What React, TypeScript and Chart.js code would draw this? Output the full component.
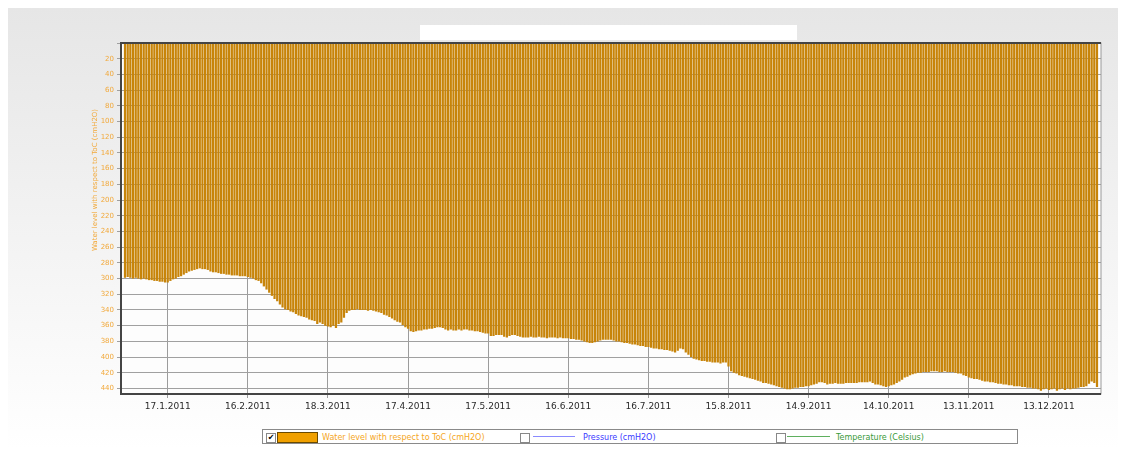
import React, { useEffect, useRef } from "react";
import { Chart, registerables } from "chart.js";

Chart.register(...registerables);

// Water level with respect to ToC (cmH2O), one value per day of 2011
const JAN = [299,298,299,300,299,300,301,300,301,302,302,303,303,304,304,305,305,303,301,300,298,297,295,293,291,290,289,288,287,288,288];
const FEB = [289,291,292,292,293,294,294,295,295,296,296,296,297,297,297,298,299,300,302,303,306,310,314,318,322,326,329,333];
const MAR = [337,339,340,342,343,345,347,348,349,350,352,353,354,358,356,358,360,361,362,360,363,358,356,350,344,341,340,340,339,340,340];
const APR = [340,341,340,341,342,343,344,346,347,349,351,353,355,356,359,362,364,367,368,367,366,366,365,365,364,364,363,362,362,363];
const MAY = [365,366,365,366,366,365,366,365,365,366,366,367,367,368,369,370,370,373,373,372,372,372,374,375,373,372,372,373,374,375,375];
const JUN = [375,374,375,375,374,375,375,376,375,375,375,376,375,376,376,376,377,377,378,378,379,380,381,382,382,381,380,379,378,378];
const JUL = [378,378,379,380,380,381,382,382,383,384,384,385,386,386,387,387,388,389,389,390,390,391,391,392,393,394,392,389,390,394,397];
const AUG = [400,402,403,404,405,405,406,406,407,407,407,408,407,407,412,418,420,421,423,424,425,426,427,428,429,430,431,433,433,434,435];
const SEP = [436,437,438,439,440,441,441,440,439,439,438,438,437,437,436,435,434,432,432,433,435,434,434,433,434,434,434,433,433,433];
const OCT = [433,433,432,432,432,432,431,433,435,435,436,437,438,437,436,435,433,431,429,426,425,423,422,421,420,420,419,419,419,418,418];
const NOV = [418,419,419,418,419,419,419,420,421,421,423,424,426,427,428,428,429,430,431,431,432,432,433,434,434,435,435,436,436,437];
const DEC = [437,437,438,438,439,439,440,440,441,443,441,440,442,441,440,443,441,440,442,440,441,440,440,439,438,438,437,434,431,433,438];

const MONTHS = [JAN, FEB, MAR, APR, MAY, JUN, JUL, AUG, SEP, OCT, NOV, DEC];
const YEAR = 2011;

const X_TICK_LABELS = [
  "17.1.2011", "16.2.2011", "18.3.2011", "17.4.2011", "17.5.2011", "16.6.2011",
  "16.7.2011", "15.8.2011", "14.9.2011", "14.10.2011", "13.11.2011", "13.12.2011",
];

const Y_MIN = 0;
const Y_MAX = 447;
const Y_STEP = 20;

const SERIES_LABEL = "Water level with respect to ToC (cmH2O)";
const PRESSURE_LABEL = "Pressure (cmH2O)";
const TEMPERATURE_LABEL = "Temperature (Celsius)";

// build category labels (one per day, padded one slot each side) and values
const LABELS: string[] = ["31.12.2010"];
const VALUES: (number | null)[] = [null];
MONTHS.forEach((arr, m) => {
  arr.forEach((v, d) => {
    LABELS.push(`${d + 1}.${m + 1}.${YEAR}`);
    VALUES.push(v);
  });
});
LABELS.push("1.1.2012");
VALUES.push(null);

const BAR_COLOR = "#C78409";
const AXIS_TEXT = "#F2A93B";

const framePlugin = {
  id: "frame",
  beforeDraw(chart: any) {
    const { ctx, chartArea } = chart;
    ctx.save();
    ctx.fillStyle = "#fdfdfd";
    ctx.fillRect(chartArea.left, chartArea.top, chartArea.right - chartArea.left, chartArea.bottom - chartArea.top);
    ctx.restore();
  },
  afterDatasetsDraw(chart: any) {
    const { ctx, chartArea } = chart;
    ctx.save();
    ctx.strokeStyle = "#9a9a9a";
    ctx.lineWidth = 1;
    ctx.strokeRect(chartArea.left, chartArea.top, chartArea.right - chartArea.left, chartArea.bottom - chartArea.top);
    ctx.strokeStyle = "#444";
    ctx.lineWidth = 2;
    ctx.beginPath();
    ctx.moveTo(chartArea.right, chartArea.top);
    ctx.lineTo(chartArea.left, chartArea.top);
    ctx.lineTo(chartArea.left, chartArea.bottom);
    ctx.lineTo(chartArea.right, chartArea.bottom);
    ctx.stroke();
    ctx.restore();
  },
  afterDraw(chart: any) {
    const { ctx } = chart;
    ctx.save();
    ctx.translate(87, 172);
    ctx.rotate(-Math.PI / 2);
    ctx.fillStyle = AXIS_TEXT;
    ctx.font = "7px 'DejaVu Sans'";
    ctx.textAlign = "center";
    ctx.textBaseline = "middle";
    ctx.fillText(SERIES_LABEL, 0, 0);
    ctx.restore();
  },
};

export default function App() {
  const ref = useRef<HTMLCanvasElement | null>(null);

  useEffect(() => {
    if (!ref.current) return;
    const chart = new Chart(ref.current, {
      type: "bar",
      data: {
        labels: LABELS,
        datasets: [
          {
            label: SERIES_LABEL,
            data: VALUES,
            backgroundColor: BAR_COLOR,
            borderWidth: 0,
            barPercentage: 1,
            categoryPercentage: 0.84,
          },
        ],
      },
      options: {
        animation: false,
        responsive: false,
        maintainAspectRatio: false,
        layout: { padding: { left: 0, top: 35, right: 17, bottom: 0 } },
        plugins: {
          legend: { display: false },
          tooltip: { enabled: false },
          title: { display: false },
        },
        scales: {
          x: {
            type: "category",
            grid: {
              offset: false,
              drawOnChartArea: true,
              color: (c: any) => {
                const l = LABELS[c.index];
                return c.tick && X_TICK_LABELS.includes(l) ? "#9c9c9c" : "rgba(0,0,0,0)";
              },
              lineWidth: 1,
              tickLength: 4,
            },
            border: { display: false },
            ticks: {
              autoSkip: false,
              maxRotation: 0,
              minRotation: 0,
              padding: 3,
              color: "#2a2a2a",
              font: { family: "'DejaVu Sans'", size: 9 },
              callback: (_v: any, i: number) => (X_TICK_LABELS.includes(LABELS[i]) ? LABELS[i] : ""),
            },
            afterFit: (s: any) => {
              s.height = 26;
            },
          },
          y: {
            type: "linear",
            reverse: true,
            min: Y_MIN,
            max: Y_MAX,
            grid: {
              color: "#a0a0a0",
              lineWidth: 1,
              tickLength: 4,
            },
            border: { display: false },
            ticks: {
              stepSize: Y_STEP,
              includeBounds: false,
              padding: 3,
              color: AXIS_TEXT,
              font: { family: "'DejaVu Sans'", size: 7 },
              callback: (v: any) => (v === 0 ? "" : String(v)),
            },
            afterFit: (s: any) => {
              s.width = 113;
            },
          },
        },
      },
      plugins: [framePlugin],
    } as any);
    return () => chart.destroy();
  }, []);

  const checkbox = (checked: boolean, left: number) => (
    <div
      style={{
        position: "absolute",
        left,
        top: 3,
        width: 8,
        height: 8,
        border: "1px solid #888",
        background: "#fff",
        fontSize: 8,
        lineHeight: "8px",
        textAlign: "center",
        fontFamily: "'DejaVu Sans'",
        color: "#000",
      }}
    >
      {checked ? "✔" : ""}
    </div>
  );

  const text = (t: string, left: number, color: string) => (
    <span
      style={{
        position: "absolute",
        left,
        top: 1,
        fontFamily: "'DejaVu Sans'",
        fontSize: 8,
        lineHeight: "13px",
        color,
        whiteSpace: "nowrap",
      }}
    >
      {t}
    </span>
  );

  return (
    <div
      style={{
        position: "relative",
        width: 1110,
        height: 441,
        background: "linear-gradient(#e6e6e6, #ffffff)",
      }}
    >
      <canvas ref={ref} width={1110} height={412} style={{ position: "absolute", left: 0, top: 0, display: "block" }} />
      <div style={{ position: "absolute", left: 412, top: 17, width: 377, height: 15, background: "#fff" }} />
      <div
        style={{
          position: "absolute",
          left: 254,
          top: 421,
          width: 756,
          height: 15,
          boxSizing: "border-box",
          border: "1px solid #8a8a8a",
          background: "#fff",
        }}
      >
        {checkbox(true, 3)}
        <div style={{ position: "absolute", left: 14, top: 2, width: 39, height: 9, background: "#F0A000", border: "1px solid #6a4a00" }} />
        {text(SERIES_LABEL, 59, "#F5A623")}
        {checkbox(false, 257)}
        <div style={{ position: "absolute", left: 270, top: 6, width: 42, height: 1, background: "#8a8aff" }} />
        {text(PRESSURE_LABEL, 320, "#3a3aff")}
        {checkbox(false, 513)}
        <div style={{ position: "absolute", left: 524, top: 6, width: 43, height: 1, background: "#5fb05f" }} />
        {text(TEMPERATURE_LABEL, 573, "#3a9a3a")}
      </div>
    </div>
  );
}
